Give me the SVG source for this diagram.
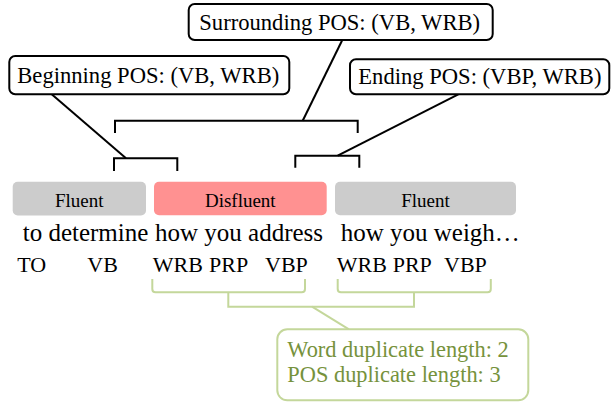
<svg xmlns="http://www.w3.org/2000/svg" width="614" height="402" viewBox="0 0 614 402">
<style>
text{font-family:"Liberation Serif","Times New Roman",serif;fill:#000}
.callout{fill:#fff;stroke:#000;stroke-width:2}
.ct{font-size:22.6px}
.lab{font-size:19px;text-anchor:middle}
.word{font-size:25px}
.pos{font-size:22px}
.blk{fill:none;stroke:#000;stroke-width:2}
.grn{fill:none;stroke:#C4D79B;stroke-width:2}
.gt{font-size:22.4px;fill:#76923C}
</style>
<rect width="614" height="402" fill="#fff"/>
<g id="connectors">
<line class="blk" x1="51.7" y1="94.3" x2="126" y2="158.3"/>
<path class="blk" d="M114,171 V158.3 H177.3 V171"/>
<line class="blk" x1="342.3" y1="40" x2="302.7" y2="120.7"/>
<path class="blk" d="M115,133 V120.7 H357.7 V133"/>
<line class="blk" x1="458.3" y1="94.3" x2="337.7" y2="155.7"/>
<path class="blk" d="M295.3,167.7 V155.7 H359.3 V167.7"/>
<path class="grn" d="M152.3,279 V289 Q152.3,292.3 155.6,292.3 H301.7 Q305,292.3 305,289 V279"/>
<path class="grn" d="M337.7,279 V289 Q337.7,292.3 341,292.3 H487.5 Q490.8,292.3 490.8,289 V279"/>
<path class="grn" d="M228.3,292.3 V306.7 H414 V292.3"/>
<line class="grn" x1="312" y1="306.7" x2="349" y2="329.3"/>
</g>
<g id="surrounding">
<rect class="callout" x="188.7" y="4" width="304" height="36" rx="6"/>
<text class="ct" x="199.3" y="30">Surrounding POS: (VB, WRB)</text>
</g>
<g id="beginning">
<rect class="callout" x="9.3" y="56" width="280" height="38.3" rx="6"/>
<text class="ct" x="17.3" y="83.3">Beginning POS: (VB, WRB)</text>
</g>
<g id="ending">
<rect class="callout" x="350" y="59.3" width="259.3" height="35" rx="6"/>
<text class="ct" x="358.3" y="84.3">Ending POS: (VBP, WRB)</text>
</g>
<g id="fluent1">
<rect x="12.7" y="181.7" width="133.3" height="33.7" rx="5" fill="#CCCCCC"/>
<text class="lab" x="79.3" y="206.5">Fluent</text>
</g>
<g id="disfluent">
<rect x="154" y="181.7" width="172.7" height="33.5" rx="5" fill="#FF9191"/>
<text class="lab" x="240.3" y="206.5">Disfluent</text>
</g>
<g id="fluent2">
<rect x="335" y="181.7" width="181" height="33.5" rx="5" fill="#CCCCCC"/>
<text class="lab" x="425.5" y="206.5">Fluent</text>
</g>
<g id="words">
<text class="word" x="22.7" y="241">to determine</text>
<text class="word" x="155" y="241">how you address</text>
<text class="word" x="340.7" y="241">how you weigh…</text>
</g>
<g id="tags">
<text class="pos" x="17.3" y="271.7">TO</text>
<text class="pos" x="87.3" y="271.7">VB</text>
<text class="pos" x="152.7" y="271.7">WRB</text>
<text class="pos" x="209" y="271.7">PRP</text>
<text class="pos" x="265" y="271.7">VBP</text>
<text class="pos" x="336.7" y="271.7">WRB</text>
<text class="pos" x="392.7" y="271.7">PRP</text>
<text class="pos" x="444" y="271.7">VBP</text>
</g>
<g id="duplicate">
<rect x="277.3" y="329.3" width="251" height="71" rx="10" fill="#fff" stroke="#C4D79B" stroke-width="2"/>
<text class="gt" x="287.3" y="357.3">Word duplicate length: 2</text>
<text class="gt" x="287.3" y="382.3">POS duplicate length: 3</text>
</g>
</svg>
